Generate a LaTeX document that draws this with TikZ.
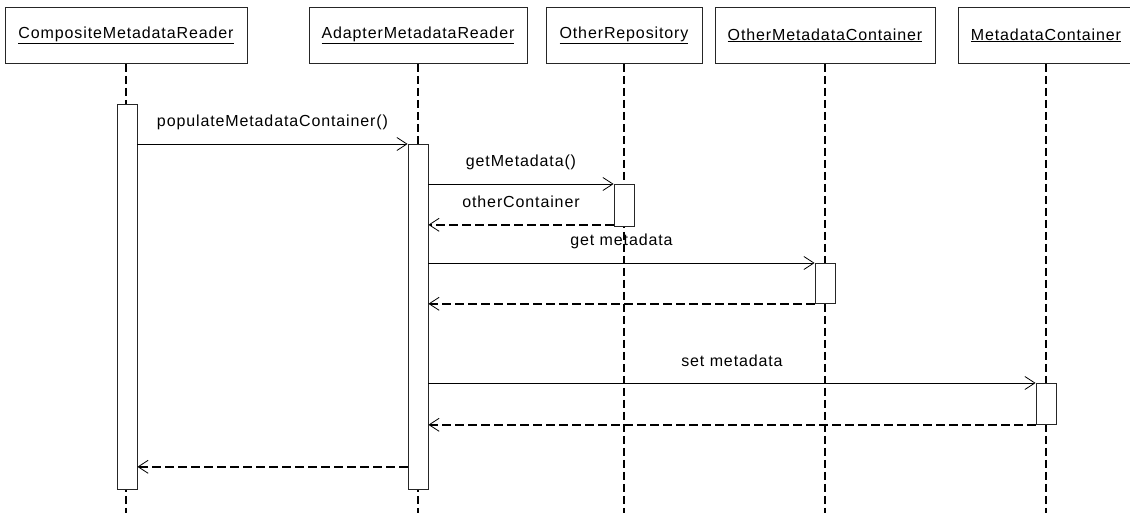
\documentclass[tikz,border=0pt]{standalone}
\usepackage{fontspec}
\setmainfont{Liberation Sans}[LetterSpace=5.5]
\usetikzlibrary{arrows.meta}

\begin{document}
\begin{tikzpicture}[x=1pt, y=-1pt, font=\fontsize{16}{19}\selectfont]
      \tikzstyle{object}=[draw=black!85, line width=0.8pt, fill=white, anchor=north, minimum height=56pt, inner sep=0pt]
      \tikzstyle{bar}=[draw=black!85, line width=0.8pt, fill=white, anchor=north, minimum width=20pt, inner sep=0pt]
      \tikzstyle{lifeline}=[line width=1.5pt, dash pattern=on 8pt off 4pt]
      \tikzstyle{call}=[line width=0.8pt, -{Straight Barb[length=10pt, width=13pt]}]
      \tikzstyle{reply}=[line width=1.5pt, dash pattern=on 9pt off 4pt, -{Straight Barb[length=10pt, width=13pt, line width=0.8pt]}]
      \tikzstyle{lbl}=[midway, anchor=base, yshift=17pt, inner sep=0pt]

      \useasboundingbox (0,0) rectangle (1130,513);

      % Initialise each object box along the top.
      \node[object, minimum width=242pt]
        (composite) at (126,7)        % left-most object.
        {\underline{CompositeMetadataReader}};
      \node[object, minimum width=218pt]
        (adapter) at (418,7)
        {\underline{AdapterMetadataReader}};
      \node[object, minimum width=156pt]
        (otherrepo) at (624,7)
        {\underline{OtherRepository}};
      \node[object, minimum width=220pt]
        (othercontainer) at (825,7)
        {\underline{OtherMetadataContainer}};
      \node[object, minimum width=176pt]
        (container) at (1046,7)       % right-most object, cut by the border.
        {\underline{MetadataContainer}};

      % Lifelines run down to the bottom edge.
      \coordinate (bottom) at (0,513);
      \path[lifeline]
        (composite.south) edge (composite.south |- bottom)
        (adapter.south) edge (adapter.south |- bottom)
        (otherrepo.south) edge (otherrepo.south |- bottom)
        (othercontainer.south) edge (othercontainer.south |- bottom)
        (container.south) edge (container.south |- bottom);

      % Activation bars on top of the lifelines.
      \node[bar, minimum height=385pt] (act_composite) at (127,104) {};
      \node[bar, minimum height=345pt] (act_adapter) at (418,144) {};
      \node[bar, minimum height=42pt] (act_otherrepo) at (624,184) {};
      \node[bar, minimum height=40pt] (act_othercontainer) at (825,263) {};
      \node[bar, minimum height=41pt] (act_container) at (1046,383) {};
      \coordinate (found) at ([yshift=2pt]act_otherrepo.south west);
      \coordinate (done) at ([yshift=23pt]act_adapter.south west);

      % Draw the messages with their labels.
      \path
        (act_composite.east |- act_adapter.north west)
          edge[call] node[lbl] {populateMetadataContainer()} (act_adapter.north west)
        (act_adapter.east |- act_otherrepo.north west)
          edge[call] node[lbl] {getMetadata()} (act_otherrepo.north west)
        (found)
          edge[reply] node[lbl] {otherContainer} (act_adapter.east |- found)
        (act_adapter.east |- act_othercontainer.north west)
          edge[call] node[lbl] {get metadata} (act_othercontainer.north west)
        (act_othercontainer.south west)
          edge[reply] (act_adapter.east |- act_othercontainer.south west)
        (act_adapter.east |- act_container.north west)
          edge[call] node[lbl] {set metadata} (act_container.north west)
        (act_container.south west)
          edge[reply] (act_adapter.east |- act_container.south west)
        (done)
          edge[reply] (act_composite.east |- done);
\end{tikzpicture}
\end{document}
